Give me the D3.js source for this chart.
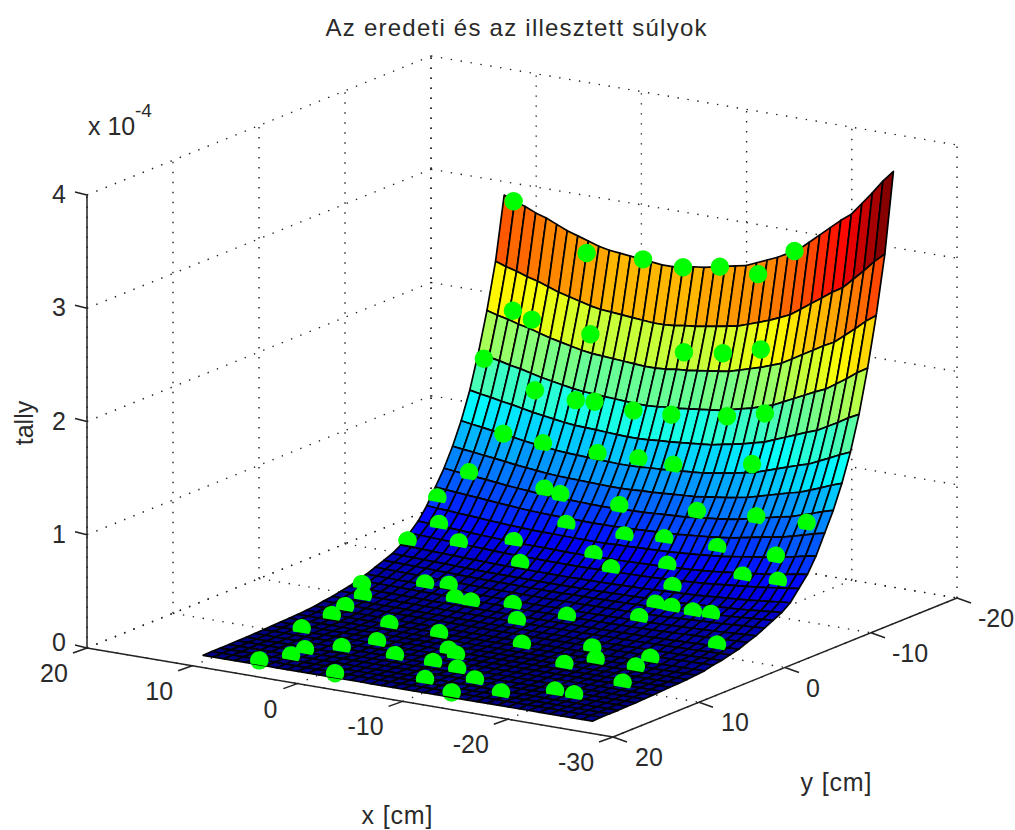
<!DOCTYPE html>
<html>
<head>
<meta charset="utf-8">
<script src="https://cdn.jsdelivr.net/npm/d3@7"></script>
<style>
html, body { margin: 0; background: #fff; }
text { font-family: "Liberation Sans", Arial, sans-serif; fill: #2a2a2a; }
</style>
</head>
<body>
<svg id="chart" width="1015" height="830"></svg>
<script>
//============ data ============
const xTicks = [20, 10, 0, -10, -20, -30];
const yTicks = [20, 10, 0, -10, -20];
const zTicks = [0, 1, 2, 3, 4];
// surface columns and rows, far edge first
const surfX = [11,10,9,8,7,6,5,4,3,2,1,0,-1,-2,-3,-4,-5,-6,-7,-8,-9,-10,-11,-12,-13,-14,-15,-16,-17,-18,-19,-20,-21,-22,-23,-24,-25,-26];
const surfY = [-17.5,-16.5,-15.5,-14.5,-13.5,-12.5,-11.5,-10.5,-9.5,-8.5,-7.5,-6.5,-5.5,-4.5,-3.5,-2.5,-1.5,-0.5,0.5,1.5,2.5,3.5,4.5,5.5,6.5,7.5,8.5,9.5,10.5,11.5,12.5,13.5,14.5,15.5,16.5,17.5];
// height of the far edge of the surface, x10^-4
const edgeZ = [2.99,2.95,2.92,2.88,2.85,2.81,2.77,2.74,2.71,2.68,2.66,2.65,2.64,2.63,2.62,2.61,2.61,2.62,2.64,
  2.65,2.67,2.69,2.71,2.73,2.77,2.81,2.85,2.90,2.95,3.03,3.11,3.19,3.27,3.34,3.45,3.56,3.68,3.78];
// how far each row drops relative to the far edge
const rowDrop = [1,.815,.68,.565,.465,.385,.32,.265,.22,.175,.14,.115,.09,.075,.065,.055,.045,.038,.03,.025,
  .02,.017,.012,.01,.008,.007,.006,.005,.004,.003,.002,.002,.001,.001,.001,0];
// the green points
const dotX = [10.1,3.0,-2.2,-6.0,-9.5,-13.3,-16.6,8.7,6.9,1.5,-7.4,-11.1,-14.7,10.4,5.3,1.5,-0.2,-3.9,-7.5,-12.8,-16.4,
  7.0,3.3,-1.8,-5.6,-9.0,-16.4,8.7,1.7,0.1,10.4,-5.5,-12.8,-18.6,-23.8,9.1,-1.7,-7.3,-11.0,6.4,2.0,10.7,-16.2,-5.5,0.0,
  -7.9,-12.6,-22.1,-20.0,-23.6,10.3,5.6,3.6,-14.4,8.9,8.7,8.5,1.7,0.1,-3.3,-5.5,-8.7,-14.5,-14.5,-16.1,-18.3,-20.1,
  3.2,8.5,-1.7,1.5,2.9,5.0,5.1,-2.0,6.4,-4.9,-6.0,-5.7,-9.0,-14.7,-16.5,-23.7,-20.3,-20.4,-15.0,-8.4,-0.8,-7.8,-11.4,-22.0,-11.8,-15.1,-18.6,-20.5];
const dotY = [-17.5,-17.3,-17.5,-17.5,-17.5,-17.3,-17.5,-15.7,-15.7,-15.9,-15.9,-15.9,-15.9,-14.4,-14.1,-14.2,-14.3,-14.3,-14.3,-14.3,-14.3,
  -12.5,-12.6,-12.7,-12.8,-12.7,-12.8,-10.6,-10.8,-10.7,-9.0,-10.7,-10.8,-10.6,-10.1,-7.6,-9.2,-9.1,-9.2,-6.6,-7.6,-5.9,-9.0,-7.7,-5.9,
  -6.8,-7.6,-8.6,-7.3,-7.0,-0.1,-1.7,-2.0,-6.0,1.5,3.8,5.6,-0.4,-0.3,-1.0,1.2,-0.7,-2.0,-3.9,-3.8,-3.6,-3.5,
  5.4,9.1,5.6,8.9,11.3,13.0,14.5,11.1,16.6,8.4,8.9,11.2,4.9,3.7,5.5,0.2,3.8,5.6,7.3,11.7,16.6,14.7,13.3,9.1,16.5,14.8,12.8,12.9];
const dotZ = [2.95,2.61,2.63,2.62,2.68,2.68,2.93,2.06,2.01,1.96,1.94,1.99,2.08,1.65,1.46,1.43,1.44,1.42,1.44,1.51,1.59,
  1.10,1.07,1.06,1.07,1.07,1.19,.79,.75,.73,.59,.72,.78,.83,.87,.42,.54,.53,.56,.33,.38,.30,.57,.38,.27,
  .32,.40,.60,.43,.45,.10,.13,.14,.29,.07,.05,.03,.10,.10,.11,.07,.10,.14,.20,.20,.20,.21,
  .03,.02,.03,.01,.01,.01,.00,.01,.00,.02,.01,.01,.03,.05,.03,.11,.05,.03,.02,.01,.00,.00,.01,.02,.00,.00,.01,.01];

//============ projection ============
const uScale = d3.scaleLinear().domain([20, -30]).range([0, 1]);
const vScale = d3.scaleLinear().domain([20, -20]).range([0, 1]);
const zScale = d3.scaleLinear().domain([0, 4]).range([0, 453]);
function project(x, y, z) {
  const u = uScale(x), v = vScale(y);
  return [87 + 526 * u + 344 * v, 648 + 89 * u - 139 * v - zScale(z)];
}
//============ jet colormap, 64 steps ============
const jetStops = d3.scaleLinear()
  .domain([0, .125, .375, .625, .875, 1])
  .range(["#00007f", "#0000ff", "#00ffff", "#ffff00", "#ff0000", "#7f0000"]);
const jet = d3.scaleQuantize().domain([0, 3.78]).range(d3.range(64).map(i => jetStops((i + .5) / 64)));

const zGrid = rowDrop.map(d => edgeZ.map(e => e * d));
const svg = d3.select("#chart");
const line = d3.line();

//============ grid ============
const grid = svg.append("g").attr("fill", "none").attr("stroke", "#222")
  .attr("stroke-width", 1.4).attr("stroke-dasharray", "1.4 8.6");
function seg(g, a, b) { g.append("path").attr("d", line([project(...a), project(...b)])); }
xTicks.forEach(x => { seg(grid, [x, 20, 0], [x, -20, 0]); seg(grid, [x, -20, 0], [x, -20, 4]); });
yTicks.forEach(y => { seg(grid, [20, y, 0], [-30, y, 0]); seg(grid, [20, y, 0], [20, y, 4]); });
zTicks.forEach(z => { seg(grid, [20, 20, z], [20, -20, z]); seg(grid, [20, -20, z], [-30, -20, z]); });

//============ points behind the surface, only their rims stick out ============
const dotR = 9.2;
const dots = dotX.map((x, i) => ({ p: project(x, dotY[i], dotZ[i]), z: dotZ[i] }));
svg.append("g").selectAll("circle").data(dots.filter(d => d.z < 1.1)).enter().append("circle")
  .attr("cx", d => d.p[0]).attr("cy", d => d.p[1]).attr("r", dotR).attr("fill", "#00ff00");

//============ surface, back to front ============
const surf = svg.append("g").attr("stroke", "#000").attr("stroke-width", 1.7).attr("stroke-linejoin", "round");
surfY.slice(0, -1).forEach((ya, j) => {
  const yb = surfY[j + 1];
  surfX.slice(0, -1).forEach((xa, i) => {
    const xb = surfX[i + 1];
    surf.append("path")
      .attr("d", line([project(xa, ya, zGrid[j][i]), project(xb, ya, zGrid[j][i + 1]),
        project(xb, yb, zGrid[j + 1][i + 1]), project(xa, yb, zGrid[j + 1][i])]) + "Z")
      .attr("fill", jet((zGrid[j][i] + zGrid[j][i + 1]) / 2));
  });
});

//============ points in front, low ones sink into the surface ============
const tilt = Math.atan2(89, 526) + Math.PI / 2;
function dome(d) {
  const path = d3.path();
  const h = d.z < .6 ? 4.5 : d.z < 1.1 ? 7 : null;
  if (h === null) {
    path.arc(d.p[0], d.p[1], dotR, 0, 2 * Math.PI);
  } else {
    const a = Math.acos(h / dotR);
    path.arc(d.p[0], d.p[1], dotR, tilt + a, tilt - a + 2 * Math.PI);
    path.closePath();
  }
  return path.toString();
}
svg.append("g").selectAll("path").data(dots).enter().append("path")
  .attr("d", dome).attr("fill", "#00ff00");

//============ axes ============
const axes = svg.append("g").attr("fill", "none").attr("stroke", "#222").attr("stroke-width", 1.5);
seg(axes, [20, 20, 0], [-30, 20, 0]);
seg(axes, [-30, 20, 0], [-30, -20, 0]);
seg(axes, [20, 20, 0], [20, 20, 4]);
function tick(p, dx, dy) { axes.append("path").attr("d", line([p, [p[0] + dx, p[1] + dy]])); }
function label(t, x, y, anchor) {
  return svg.append("text").attr("x", x).attr("y", y).attr("text-anchor", anchor || "middle")
    .attr("font-size", 25).text(t);
}
xTicks.forEach(x => {
  const p = project(x, 20, 0);
  tick(p, -14, 5);
  label(x, p[0] - (x < 0 ? 37 : x == 0 ? 27 : 33), p[1] + 34);
});
yTicks.forEach(y => {
  const p = project(-30, y, 0);
  tick(p, 14, 5);
  label(y, p[0] + (y < 0 ? 39 : y == 0 ? 28 : 36), p[1] + 29);
});
zTicks.forEach(z => {
  const p = project(20, 20, z);
  tick(p, -12, -3);
  label(z, 66, p[1] + (z === 0 ? 3 : 8), "end");
});

label("Az eredeti és az illesztett súlyok", 516, 36).attr("font-size", 24)
  .attr("textLength", 381).attr("lengthAdjust", "spacing");
label("tally", 0, 0).attr("transform", "translate(33,423) rotate(-90)");
label("x [cm]", 397, 824).attr("textLength", 71).attr("lengthAdjust", "spacing");
label("y [cm]", 836, 791).attr("textLength", 71).attr("lengthAdjust", "spacing");
label("x 10", 88, 135, "start");
label("-4", 135, 117, "start").attr("font-size", 19);
</script>
</body>
</html>
